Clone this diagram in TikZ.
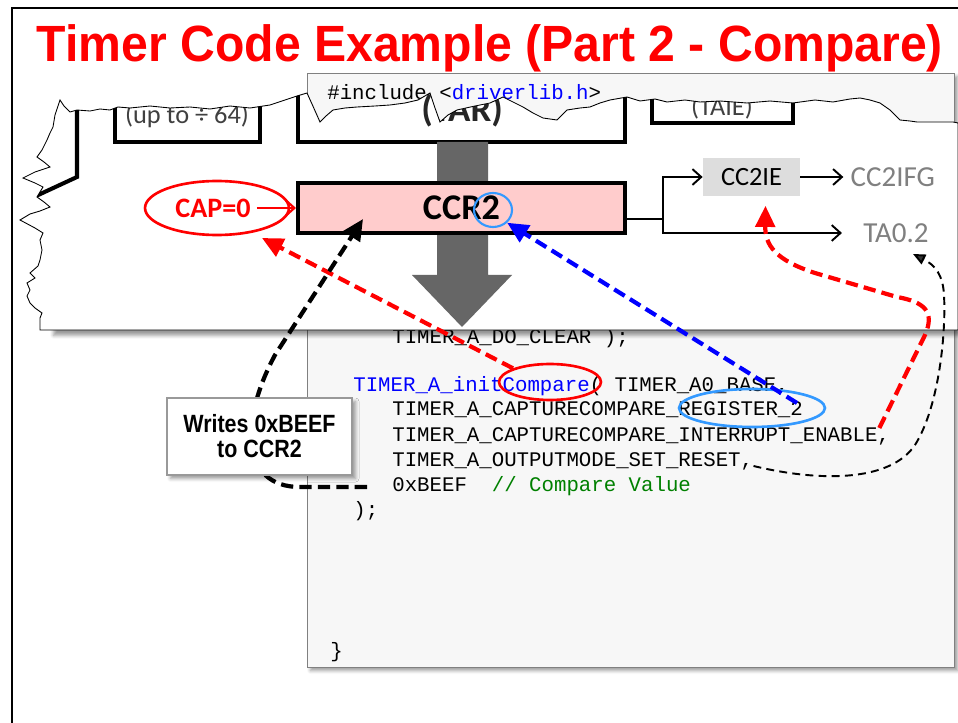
\documentclass[tikz,border=0pt]{standalone}
\usepackage{fontspec}
\setmonofont{Liberation Mono}
\newfontfamily\titlefont[FakeStretch=0.945]{Liberation Sans}
\newfontfamily\notefont[FakeStretch=0.86]{Liberation Sans}
\newfontfamily\calfont{Carlito}
\usetikzlibrary{arrows.meta}
\usetikzlibrary{shapes.geometric}
\usetikzlibrary{shadows.blur}
\usetikzlibrary{positioning}
\definecolor{slidered}{HTML}{FF0000}
\definecolor{codeblue}{HTML}{0000FF}
\definecolor{codegreen}{HTML}{008000}
\definecolor{codebg}{HTML}{F7F7F7}
\definecolor{ccrpink}{HTML}{FFCCCC}
\definecolor{flaggray}{HTML}{DDDDDD}
\definecolor{labelgray}{HTML}{808080}
\definecolor{ringblue}{HTML}{3399FF}
\definecolor{arrowgray}{HTML}{666666}
\begin{document}
\begin{tikzpicture}[x=0.02cm, y=-0.02cm,
  codeline/.style={anchor=base west, inner sep=0pt, font=\ttfamily\fontsize{11.8}{14}\selectfont},
  regbox/.style={draw=black, line width=2.3pt},
  sig/.style={line width=1.1pt, -{Straight Barb[length=5pt,width=9pt]}},
  ring/.style={ellipse, draw, line width=1.5pt, inner sep=0pt},
  bigdash/.style={line width=2.4pt, dash pattern=on 7pt off 3.5pt, -{Triangle[length=12pt,width=11pt]}},
  thindash/.style={line width=1.1pt, dash pattern=on 4.5pt off 3pt, -{Triangle[length=7pt,width=6pt]}},
  flag/.style={font=\calfont\fontsize{15}{18}\selectfont, inner sep=4pt}]
\useasboundingbox (0,0) rectangle (958,723);
\draw[line width=0.6pt] (12,723) -- (12,8) -- (958,8);
\node[anchor=base, text=slidered, font=\titlefont\bfseries\fontsize{29}{34}\selectfont] (title) at (490,62) {Timer Code Example (Part 2 - Compare)};

\draw[draw=gray, line width=0.5pt, fill=codebg, blur shadow={shadow xshift=2pt, shadow yshift=-2pt, shadow blur radius=2pt}] (307,73) rectangle (954,667);
\node[codeline] (lninc) at (327,100) {\#include <\textcolor{codeblue}{driverlib.h}>};
\node[codeline] (lnclr) at (392,343) {TIMER\_A\_DO\_CLEAR );};
\node[codeline] (lninit) at (353,391) {\textcolor{codeblue}{TIMER\_A\_initCompare}( TIMER\_A0\_BASE,};
\node[codeline] (lnreg) at (392,416) {TIMER\_A\_CAPTURECOMPARE\_REGISTER\_2};
\node[codeline] (lnint) at (392,441) {TIMER\_A\_CAPTURECOMPARE\_INTERRUPT\_ENABLE,};
\node[codeline] (lnout) at (392,466) {TIMER\_A\_OUTPUTMODE\_SET\_RESET,};
\node[codeline] (lnval) at (392,491) {0xBEEF~~\textcolor{codegreen}{// Compare Value}};
\node[codeline] (lnend) at (353,516) {);};
\node[codeline] (lnbrace) at (330,657) {\}};

\fill[white, blur shadow={shadow xshift=2pt, shadow yshift=-3pt, shadow blur radius=2pt}] (50,300) rectangle (957,330);
\path[save path=\tornpath] (60,100) -- (64,106) -- (70,112) -- (77,110) -- (90,111) -- (100,109) -- (110,110) -- (118,107)
  -- (130,108) -- (150,106) -- (170,108) -- (190,107) -- (210,109) -- (230,106) -- (250,108) -- (270,105) -- (285,100)
  -- (297,96) -- (307,93) -- (312,104) -- (320,122) -- (326,116) -- (333,110) -- (345,108) -- (357,107) -- (375,106)
  -- (390,105) -- (405,103) -- (418,100) -- (430,93) -- (435,108) -- (440,122) -- (448,115) -- (457,110) -- (475,106)
  -- (490,103) -- (503,97) -- (513,102) -- (523,107) -- (533,113) -- (543,118) -- (557,120) -- (567,110) -- (580,108)
  -- (590,107) -- (600,103) -- (610,100) -- (627,97) -- (640,101) -- (655,99) -- (667,102) -- (685,100) -- (700,102)
  -- (720,101) -- (747,103) -- (770,101) -- (793,103) -- (815,100) -- (833,102) -- (850,99) -- (860,98) -- (870,100)
  -- (880,103) -- (890,110) -- (900,120) -- (910,121) -- (917,122) -- (935,122) -- (953,122) -- (958,123)
  -- (958,330) -- (40,330) -- (40,318) -- (42,313) -- (35,308) -- (30,303) -- (27,296) -- (30,290) -- (27,283)
  -- (35,278) -- (30,273) -- (38,266) -- (40,260) -- (42,250) -- (40,240) -- (43,233) -- (35,228) -- (20,220)
  -- (30,214) -- (40,211) -- (50,207) -- (44,202) -- (37,197) -- (40,192) -- (43,187) -- (35,183) -- (23,178)
  -- (35,172) -- (50,167) -- (44,162) -- (37,157) -- (42,150) -- (47,140) -- (50,133) -- (53,127) -- (55,115)
  -- (58,106) -- cycle;
\fill[white, use path=\tornpath];
\begin{scope}
\clip[use path=\tornpath];
\draw[regbox] (77,80) -- (77,177) -- (36,196);
\draw[regbox] (115,60) |- (260,142) -- (260,60);
\draw[regbox] (298,60) |- (625,142) -- (625,60);
\draw[regbox] (652,60) |- (793,123) -- (793,60);
\node[anchor=base, text=black!75, font=\calfont\fontsize{15}{17}\selectfont] (presc) at (187,124) {(up to ÷ 64)};
\node[anchor=base, text=black!85, font=\calfont\bfseries\fontsize{21}{24}\selectfont] (tar) at (462,122) {(TAR)};
\node[anchor=base, text=black!75, font=\calfont\fontsize{15}{17}\selectfont] (taie) at (722,116) {(TAIE)};
\fill[arrowgray] (437,142) -- (488,142) -- (488,275) -- (512,275) -- (462,327) -- (412,275) -- (437,275) -- cycle;
\end{scope}
\draw[line width=0.5pt, use path=\tornpath];

\node[regbox, fill=ccrpink, minimum width=6.54cm, minimum height=1.0cm, font=\calfont\bfseries\fontsize{20.6}{24}\selectfont] (ccr) at (461.5,208) {CCR2};
\node[text=slidered, font=\calfont\bfseries\fontsize{16}{19}\selectfont] (cap) at (213,208) {CAP=0};
\draw[sig, slidered, line width=1.2pt] (cap) -- (ccr);
\node[flag, fill=flaggray, minimum width=1.94cm, minimum height=0.78cm] (cc2ie) at (751.5,177) {CC2IE};
\node[flag, text=labelgray, font=\calfont\fontsize{16.5}{19}\selectfont, right=0.86cm of cc2ie] (cc2ifg) {CC2IFG};
\node[flag, text=labelgray, font=\calfont\fontsize{16.5}{19}\selectfont] (ta02) at (896,233) {TA0.2};
\coordinate (fork) at (663,219);
\draw[line width=1.1pt] (ccr.east |- fork) -- (fork);
\draw[sig] (fork) |- (cc2ie);
\draw[sig] (fork) |- ([shift={(-14,0)}]ta02.west);
\draw[sig] (cc2ie) -- (cc2ifg);

\node[ring, draw=slidered, minimum width=2.88cm, minimum height=1.08cm] (capring) at (217,208) {};
\node[ring, draw=ringblue, line width=1.2pt, minimum width=0.76cm, minimum height=0.68cm] (ringtwo) at (493,210) {};
\node[ring, draw=slidered, minimum width=2.04cm, minimum height=0.72cm] (cmpring) at (550,382) {};
\node[ring, draw=ringblue, minimum width=2.92cm, minimum height=0.76cm] (regring) at (752,408) {};

\coordinate (intend) at ([shift={(-11,-13)}]lnint.base east);
\coordinate (outend) at (lnout.base east);
\coordinate (valend) at ([shift={(-25,-4)}]lnval.base west);
\draw[bigdash, slidered] (cmpring.north west) -- ([shift={(45,30)}]capring.center);
\draw[bigdash, codeblue] ([shift={(45,-5)}]regring.center) -- (ringtwo.south east);
\draw[bigdash, slidered] (intend) -- (925,335) .. controls (935,312) and (925,302) .. (897,297) -- (815,273) .. controls (775,260) and (765,245) .. ([shift={(14,9)}]cc2ie.south);
\draw[thindash] (outend) .. controls (820,482) and (890,482) .. (915,445) .. controls (940,405) and (946,330) .. (944,295) .. controls (943,275) and (935,265) .. ([shift={(17,21)}]ta02.center);
\draw[bigdash, black] (valend) -- (300,487) .. controls (240,487) and (240,420) .. (275,355) -- ([shift={(67,-16)}]ccr.south west);

\node[draw=gray!80, fill=white, line width=0.6pt, minimum width=3.7cm, minimum height=1.54cm, align=center, font=\notefont\bfseries\fontsize{14.2}{14.2}\selectfont, blur shadow={shadow xshift=2pt, shadow yshift=-2pt, shadow blur radius=2pt}] (note) at (259.5,436.5) {Writes 0xBEEF\\to CCR2};
\end{tikzpicture}
\end{document}
